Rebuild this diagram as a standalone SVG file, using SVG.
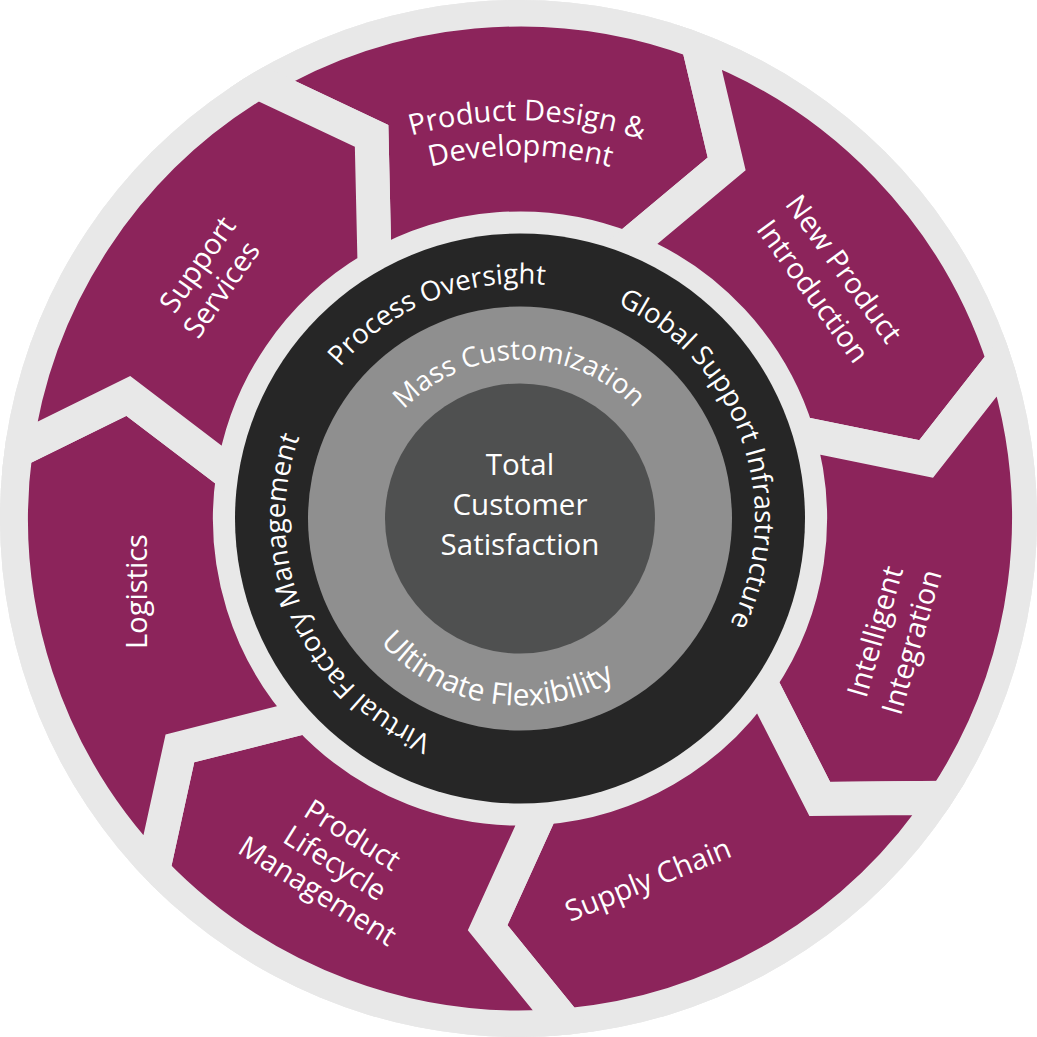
<svg xmlns="http://www.w3.org/2000/svg" width="1037" height="1037" viewBox="0 0 1037 1037">
<defs>
<style>
.seg{fill:#8C245B;stroke:#E8E8E8;stroke-width:34;stroke-linejoin:miter;stroke-miterlimit:10}
.t{font-family:"Open Sans","Noto Sans","DejaVu Sans",sans-serif;fill:#FFFFFF;text-anchor:middle}
.lbl{font-size:29px}
.ring{font-size:27.5px}
.core{font-size:29.5px}
</style>
<clipPath id="clipOuter"><circle cx="518.5" cy="518.5" r="518.5"/></clipPath>
<path id="segShape" d="M257.9,82.2 L371.6,135.8 L374.6,267.5 A290,290 0 0 1 625.58,248.32 L726.68,163.87 L697.69,41.55 A509,509 0 0 0 257.9,82.2 Z"/>
<path id="pBlack" d="M520,753.5 A235,235 0 1 1 520,283.5 A235,235 0 1 1 520,753.5"/>
<path id="pMass" d="M520,677.5 A159,159 0 1 1 520,359.5 A159,159 0 1 1 520,677.5"/>
<path id="pFlex" d="M520,331.5 A187,187 0 1 0 520,705.5 A187,187 0 1 0 520,331.5"/>
<path id="pPD1" d="M520,916.5 A398,398 0 1 1 520,120.5 A398,398 0 1 1 520,916.5"/>
<path id="pPD2" d="M520,881.5 A363,363 0 1 1 520,155.5 A363,363 0 1 1 520,881.5"/>
</defs>

<circle id="outer-ring" cx="518.5" cy="518.5" r="518.5" fill="#E8E8E8"/>

<g id="segments" clip-path="url(#clipOuter)">
  <g id="node-product-design">
    <use href="#segShape" class="seg"/>
    <text class="t lbl"><textPath href="#pPD1" startOffset="1257.3">Product Design &amp;</textPath></text>
    <text class="t lbl"><textPath href="#pPD2" startOffset="1140.4">Development</textPath></text>
  </g>
  <g id="node-new-product-introduction">
    <use href="#segShape" class="seg" transform="rotate(51.4286 520 518.5)"/>
    <g transform="translate(820.3 286) rotate(54)">
      <text class="t lbl" x="0" y="-19">New Product</text>
      <text class="t lbl" x="0" y="19">Introduction</text>
    </g>
  </g>
  <g id="node-intelligent-integration">
    <use href="#segShape" class="seg" transform="rotate(102.8571 520 518.5)"/>
    <g transform="translate(903 639.5) rotate(-74)">
      <text class="t lbl" x="0" y="-19">Intelligent</text>
      <text class="t lbl" x="0" y="19">Integration</text>
    </g>
  </g>
  <g id="node-supply-chain">
    <use href="#segShape" class="seg" transform="rotate(154.2857 520 518.5)"/>
    <text class="t lbl" transform="translate(651.7 889) rotate(-22)" x="0" y="0">Supply Chain</text>
  </g>
  <g id="node-product-lifecycle-management">
    <use href="#segShape" class="seg" transform="rotate(205.7143 520 518.5)"/>
    <g transform="translate(329.7 871.5) rotate(32)">
      <text class="t lbl" x="0" y="-33">Product</text>
      <text class="t lbl" x="0" y="0">Lifecycle</text>
      <text class="t lbl" x="0" y="33">Management</text>
    </g>
  </g>
  <g id="node-logistics">
    <use href="#segShape" class="seg" transform="rotate(257.1429 520 518.5)"/>
    <text class="t lbl" transform="translate(147 591.5) rotate(-90)" x="0" y="0">Logistics</text>
  </g>
  <g id="node-support-services">
    <use href="#segShape" class="seg" transform="rotate(308.5714 520 518.5)"/>
    <g transform="translate(217.7 282.6) rotate(-55)">
      <text class="t lbl" x="3.4" y="-17">Support</text>
      <text class="t lbl" x="-3.4" y="17">Services</text>
    </g>
  </g>
</g>

<g id="node-outer-ring-black">
  <circle cx="520" cy="518.5" r="285" fill="#262626"/>
  <text class="t ring"><textPath href="#pBlack" startOffset="648">Process Oversight</textPath></text>
  <text class="t ring"><textPath href="#pBlack" startOffset="1027.4">Global Support Infrastructure</textPath></text>
  <text class="t ring"><textPath href="#pBlack" startOffset="271.1">Virtual Factory Management</textPath></text>
</g>

<g id="node-middle-ring">
  <circle cx="520" cy="518.5" r="212" fill="#8F8F8F"/>
  <text class="t ring"><textPath href="#pMass" startOffset="498.1">Mass Customization</textPath></text>
  <text class="t" style="font-size:30px"><textPath href="#pFlex" startOffset="558.1">Ultimate Flexibility</textPath></text>
</g>

<g id="node-core">
  <circle cx="520" cy="518.5" r="135" fill="#4F5050"/>
  <text class="t core" x="520" y="474.5">Total</text>
  <text class="t core" x="520" y="514.7">Customer</text>
  <text class="t core" x="520" y="554.9">Satisfaction</text>
</g>
</svg>
